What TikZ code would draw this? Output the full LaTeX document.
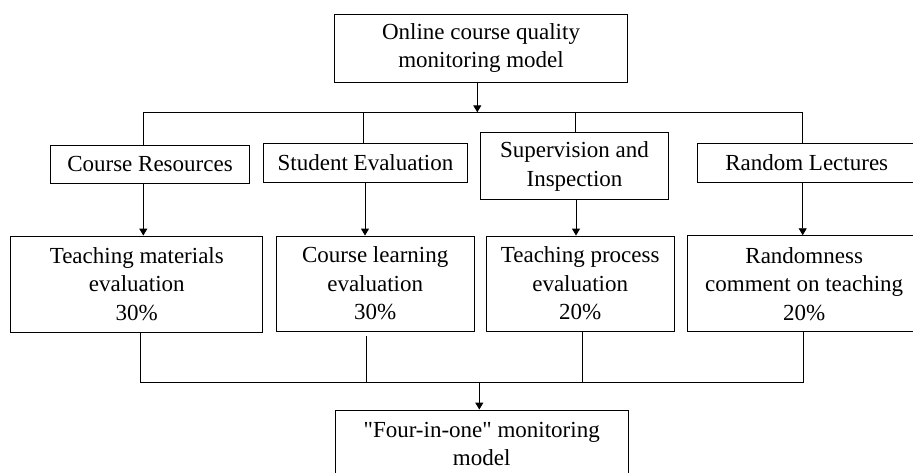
\documentclass[tikz,border=0pt]{standalone}
\usepackage{fontspec}
\setmainfont{Liberation Serif}[Ligatures=TeXOff]
\usetikzlibrary{arrows.meta}
\begin{document}
\begin{tikzpicture}[x=1pt,y=-1pt,
  box/.style={draw, line width=0.9pt, inner sep=0pt, align=center, font=\fontsize{23}{28.5}\selectfont},
  link/.style={line width=0.9pt},
  arr/.style={line width=0.9pt, -{Triangle[width=8pt,length=7pt]}}]
\useasboundingbox (0,0) rectangle (913,472);
\clip (0,0) rectangle (913,472);
\node[box, minimum width=293pt, minimum height=68pt] (top) at (481,48) {Online course quality\\monitoring model};
\node[box, minimum width=199pt, minimum height=38pt] (res) at (150,164) {Course Resources};
\node[box, minimum width=204pt, minimum height=39pt] (stu) at (365.5,163) {Student Evaluation};
\node[box, minimum width=188pt, minimum height=67pt] (sup) at (574.5,166.3) {Supervision and\\Inspection};
\node[box, minimum width=219pt, minimum height=39pt] (ran) at (806.7,162.8) {Random Lectures};
\node[box, minimum width=252pt, minimum height=96pt] (mat) at (136.8,284) {Teaching materials\\evaluation\\30\%};
\node[box, minimum width=198pt, minimum height=95pt] (lea) at (375.2,283.5) {Course learning\\evaluation\\30\%};
\node[box, minimum width=188pt, minimum height=95pt] (pro) at (580.2,283.5) {Teaching process\\evaluation\\20\%};
\node[box, minimum width=234pt, minimum height=96pt] (rnd) at (804.2,283.7) {Randomness\\comment on teaching\\20\%};
\node[box, minimum width=293pt, minimum height=68pt] (four) at (481.7,444) {"Four-in-one" monitoring\\model};
\coordinate (hub) at (477.3,112.3);
\coordinate (ua) at (143.3,112.3);
\coordinate (ub) at (363.3,112.3);
\coordinate (uc) at (575,112.3);
\coordinate (ud) at (802.7,112.3);
\coordinate (db) at (365,200);
\coordinate (dc) at (576,200);
\coordinate (la) at (140.7,382);
\coordinate (lb) at (366.7,382);
\coordinate (lc) at (582.3,382);
\coordinate (ld) at (803,382);
\coordinate (sink) at (479.3,382);
\draw[arr] (hub |- top.south) -- (hub);
\draw[link] (ua) -- (ud);
\draw[link] (ua) -- (ua |- res.north);
\draw[link] (ub) -- (ub |- stu.north);
\draw[link] (uc) -- (uc |- sup.north);
\draw[link] (ud) -- (ud |- ran.north);
\draw[arr] (ua |- res.south) -- (ua |- mat.north);
\draw[arr] (db |- stu.south) -- (db |- lea.north);
\draw[arr] (dc |- sup.south) -- (dc |- pro.north);
\draw[arr] (ud |- ran.south) -- (ud |- rnd.north);
\draw[link] (la |- mat.south) -- (la) -- (ld) -- (ld |- rnd.south);
\draw[link] ([yshift=-5pt]lb |- lea.south) -- (lb);
\draw[link] (lc |- pro.south) -- (lc);
\draw[arr] (sink) -- (sink |- four.north);
\end{tikzpicture}
\end{document}
